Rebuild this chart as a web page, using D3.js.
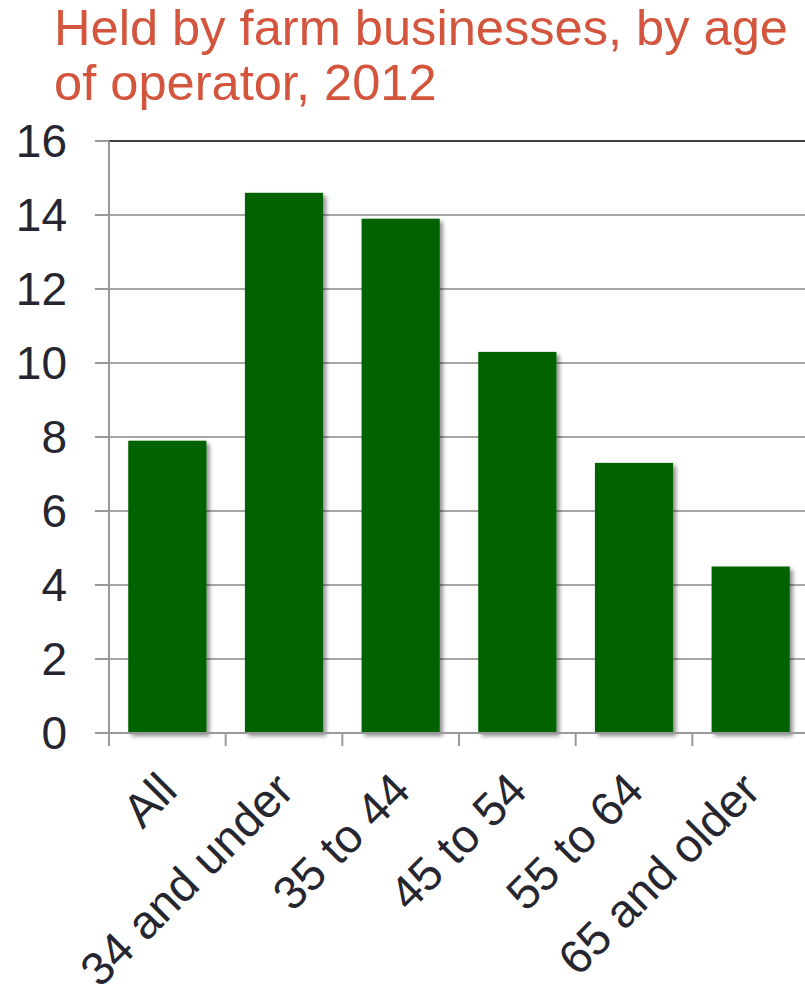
<!DOCTYPE html>
<html>
<head>
<meta charset="utf-8">
<script src="https://cdn.jsdelivr.net/npm/d3@7"></script>
<style>
  body { margin: 0; background: #fff; }
  text { font-family: "Liberation Sans", Arial, sans-serif; }
</style>
</head>
<body>
<div id="chart"></div>
<script>
var categories = ["All", "34 and under", "35 to 44", "45 to 54", "55 to 64", "65 and older"];
var values = [7.9, 14.6, 13.9, 10.3, 7.3, 4.5];
var yTicks = [0, 2, 4, 6, 8, 10, 12, 14, 16];
var titleLines = ["Held by farm businesses, by age", "of operator, 2012"];

var width = 805, height = 988;
var plotLeft = 109, plotRight = 809, plotTop = 141, plotBottom = 733;

var svg = d3.select("#chart").append("svg")
    .attr("width", width).attr("height", height);

var defs = svg.append("defs");
var shadow = defs.append("filter").attr("id", "shadow")
    .attr("x", "-10%").attr("y", "-10%").attr("width", "130%").attr("height", "130%");
shadow.append("feDropShadow")
    .attr("dx", 3).attr("dy", 3).attr("stdDeviation", 2)
    .attr("flood-color", "#000").attr("flood-opacity", 0.45);

// title
svg.selectAll("text.title").data(titleLines).enter().append("text")
    .attr("class", "title")
    .attr("x", 54)
    .attr("y", function (d, i) { return 45 + i * 55; })
    .attr("font-size", 50.6)
    .attr("fill", "#d3553d")
    .text(function (d) { return d; });

var xBands = d3.scaleBand()
    .domain(categories)
    .range([plotLeft, plotRight])
    .paddingInner(0.33)
    .paddingOuter(0.165);

var yScale = d3.scaleLinear()
    .domain([0, 16])
    .range([plotBottom, plotTop]);

// gridlines
svg.selectAll("line.grid").data(yTicks.filter(function (d) { return d > 0; })).enter()
    .append("line").attr("class", "grid")
    .attr("x1", plotLeft).attr("x2", width)
    .attr("y1", function (d) { return yScale(d); })
    .attr("y2", function (d) { return yScale(d); })
    .attr("stroke", function (d) { return d === 16 ? "#3a3a40" : "#a6a6a6"; })
    .attr("stroke-width", 2);

// y ticks + labels
svg.selectAll("line.ytick").data(yTicks).enter().append("line")
    .attr("class", "ytick")
    .attr("x1", 95).attr("x2", plotLeft)
    .attr("y1", function (d) { return yScale(d); })
    .attr("y2", function (d) { return yScale(d); })
    .attr("stroke", "#999").attr("stroke-width", 2);

svg.selectAll("text.ylab").data(yTicks).enter().append("text")
    .attr("class", "ylab")
    .attr("x", 67)
    .attr("y", function (d) { return yScale(d) + 16; })
    .attr("text-anchor", "end")
    .attr("font-size", 46)
    .attr("fill", "#262630")
    .text(function (d) { return d; });

// bars
svg.selectAll("rect.bar").data(values).enter().append("rect")
    .attr("class", "bar")
    .attr("x", function (d, i) { return xBands(categories[i]); })
    .attr("y", function (d) { return yScale(d); })
    .attr("width", xBands.bandwidth())
    .attr("height", function (d) { return yScale(0) - yScale(d); })
    .attr("fill", "#006400")
    .attr("filter", "url(#shadow)");

// axis lines
svg.append("line")
    .attr("x1", plotLeft).attr("x2", plotLeft)
    .attr("y1", plotTop).attr("y2", plotBottom + 13)
    .attr("stroke", "#999").attr("stroke-width", 2);
svg.append("line")
    .attr("x1", 95).attr("x2", width)
    .attr("y1", plotBottom).attr("y2", plotBottom)
    .attr("stroke", "#999").attr("stroke-width", 2);

// x ticks at band edges
var edges = d3.range(categories.length).map(function (i) { return plotLeft + i * xBands.step(); });
svg.selectAll("line.xtick").data(edges).enter().append("line")
    .attr("class", "xtick")
    .attr("x1", function (d) { return d; }).attr("x2", function (d) { return d; })
    .attr("y1", plotBottom).attr("y2", plotBottom + 13)
    .attr("stroke", "#999").attr("stroke-width", 2);

// x labels
svg.selectAll("text.xlab").data(categories).enter().append("text")
    .attr("class", "xlab")
    .attr("text-anchor", "end")
    .attr("font-size", 47)
    .attr("fill", "#262630")
    .attr("transform", function (d) {
        var cx = xBands(d) + xBands.bandwidth() / 2;
        return "translate(" + (cx + 12) + "," + 793 + ") rotate(-45)";
    })
    .text(function (d) { return d; });
</script>
</body>
</html>
